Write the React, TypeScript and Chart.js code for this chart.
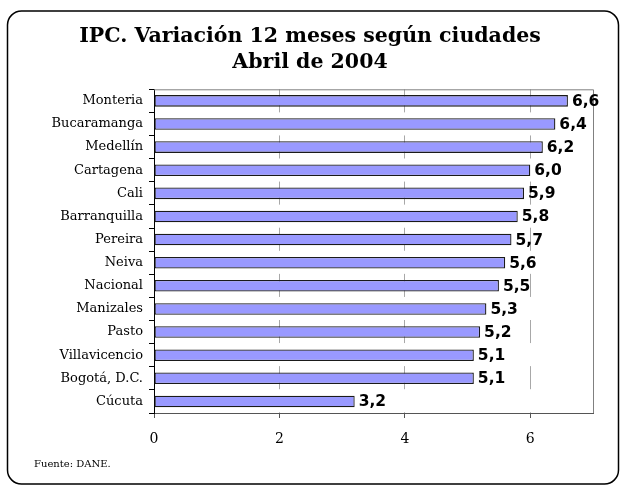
import React, { useEffect, useRef } from "react";
import { Chart, registerables } from "chart.js";

Chart.register(...registerables);

const titleLines = ["IPC. Variación 12 meses según ciudades", "Abril de 2004"];
const cities = [
  "Monteria",
  "Bucaramanga",
  "Medellín",
  "Cartagena",
  "Cali",
  "Barranquilla",
  "Pereira",
  "Neiva",
  "Nacional",
  "Manizales",
  "Pasto",
  "Villavicencio",
  "Bogotá, D.C.",
  "Cúcuta",
];
const variation = [6.6, 6.4, 6.2, 6.0, 5.9, 5.8, 5.7, 5.6, 5.5, 5.3, 5.2, 5.1, 5.1, 3.2];
const xTicks = [0, 2, 4, 6];
const xMax = 7;
const sourceNote = "Fuente: DANE.";

const SERIF = "'DejaVu Serif', serif";
const SANS = "'DejaVu Sans', Verdana, sans-serif";

const framePlugin = {
  id: "frame",
  beforeDraw(chart: any) {
    const ctx = chart.ctx;
    ctx.save();
    ctx.fillStyle = "#ffffff";
    ctx.fillRect(0, 0, chart.width, chart.height);
    ctx.restore();
  },
  afterDraw(chart: any) {
    const ctx = chart.ctx;
    const ca = chart.chartArea;
    ctx.save();
    // plot area top/right border
    ctx.strokeStyle = "#808080";
    ctx.lineWidth = 1;
    ctx.beginPath();
    ctx.moveTo(ca.left, ca.top + 0.5);
    ctx.lineTo(ca.right + 0.5, ca.top + 0.5);
    ctx.lineTo(ca.right + 0.5, ca.bottom);
    ctx.stroke();
    // outer rounded frame
    ctx.strokeStyle = "#000000";
    ctx.lineWidth = 1.5;
    const x = 7.5, y = 11, w = 611, h = 473, r = 14;
    ctx.beginPath();
    ctx.moveTo(x + r, y);
    ctx.lineTo(x + w - r, y);
    ctx.arcTo(x + w, y, x + w, y + r, r);
    ctx.lineTo(x + w, y + h - r);
    ctx.arcTo(x + w, y + h, x + w - r, y + h, r);
    ctx.lineTo(x + r, y + h);
    ctx.arcTo(x, y + h, x, y + h - r, r);
    ctx.lineTo(x, y + r);
    ctx.arcTo(x, y, x + r, y, r);
    ctx.closePath();
    ctx.stroke();
    // source note
    ctx.fillStyle = "#000";
    ctx.font = `10px ${SERIF}`;
    ctx.textAlign = "left";
    ctx.textBaseline = "middle";
    ctx.fillText(sourceNote, 34, 464);
    // value labels
    const meta = chart.getDatasetMeta(0);
    ctx.font = `bold 15.5px ${SANS}`;
    meta.data.forEach((bar: any, i: number) => {
      const v = chart.data.datasets[0].data[i] as number;
      ctx.fillText(v.toFixed(1).replace(".", ","), bar.x + 4, bar.y + 1);
    });
    ctx.restore();
  },
};

export default function App() {
  const ref = useRef<HTMLCanvasElement | null>(null);
  useEffect(() => {
    if (!ref.current) return;
    const chart = new Chart(ref.current, {
      type: "bar",
      data: {
        labels: cities,
        datasets: [
          {
            data: variation,
            backgroundColor: "#9999ff",
            borderColor: "#1a1a1a",
            borderWidth: 1.3,
            borderSkipped: false,
            barPercentage: 0.5,
            categoryPercentage: 1,
          },
        ],
      },
      options: {
        indexAxis: "y",
        animation: false,
        responsive: false,
        maintainAspectRatio: false,
        layout: { padding: { left: 27, right: 27, top: 0, bottom: 34 } },
        plugins: {
          legend: { display: false },
          tooltip: { enabled: false },
          title: {
            display: true,
            text: titleLines,
            color: "#000",
            font: { family: SERIF, size: 20.5, weight: "bold", lineHeight: 1.3 },
            padding: { top: 23, bottom: 13 },
          },
        },
        scales: {
          x: {
            min: 0,
            max: xMax,
            afterFit(scale: any) {
              scale.height = 40;
            },
            afterBuildTicks(scale: any) {
              scale.ticks = xTicks.map((v) => ({ value: v }));
            },
            ticks: {
              color: "#000",
              font: { family: SERIF, size: 14 },
              padding: 13,
            },
            grid: {
              color: "#a8a8a8",
              lineWidth: 1,
              drawTicks: true,
              tickLength: 5,
              tickColor: "#555555",
              tickBorderDash: [],
              borderDash: [23.07, 23.07],
            } as any,
            border: { display: true, color: "#555555", width: 1, dash: [23.07, 23.07] } as any,
          },
          y: {
            afterFit(scale: any) {
              scale.width = 127;
            },
            ticks: {
              color: "#000",
              font: { family: SERIF, size: 13 },
              padding: 6,
              autoSkip: false,
            },
            grid: {
              offset: true,
              drawOnChartArea: false,
              drawTicks: true,
              tickLength: 5,
              tickColor: "#000",
            },
            border: { display: true, color: "#000", width: 1 },
          },
        },
      },
      plugins: [framePlugin],
    });
    return () => chart.destroy();
  }, []);
  return (
    <div style={{ position: "absolute", left: 0, top: 0, width: 620, height: 487 }}>
      <canvas ref={ref} width={620} height={487} style={{ width: 620, height: 487, display: "block" }} />
    </div>
  );
}
